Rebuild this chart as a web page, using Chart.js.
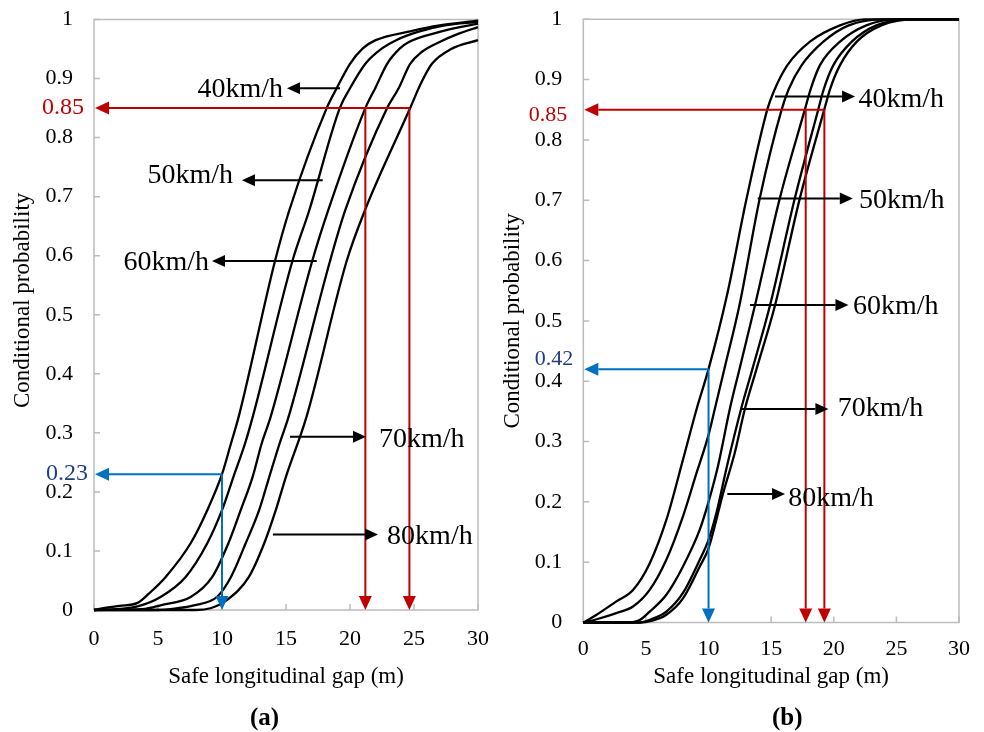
<!DOCTYPE html>
<html><head><meta charset="utf-8">
<script src="https://cdn.jsdelivr.net/npm/chart.js@4/dist/chart.umd.min.js"></script>
<style>
html,body{margin:0;padding:0;background:#fff;width:984px;height:732px;overflow:hidden;}
canvas{position:absolute;top:0;}
#ca{left:0;} #cb{left:490px;}
.cap{position:absolute;top:702px;font-family:'Liberation Serif','Times New Roman',serif;font-weight:bold;font-size:25px;line-height:30px;color:#000;}
</style></head><body>
<canvas id="ca" width="490" height="732"></canvas>
<canvas id="cb" width="494" height="732"></canvas>
<div class="cap" style="left:250px">(a)</div>
<div class="cap" style="left:772px">(b)</div>
<script>
// ---------- data ----------
const speeds = ['40km/h','50km/h','60km/h','70km/h','80km/h'];
const xTickLabels = ['0','5','10','15','20','25','30'];
const yTickLabels = ['0','0.1','0.2','0.3','0.4','0.5','0.6','0.7','0.8','0.9','1'];

// panel (a)
const gapA40  = [0,1,2,3.4,4.3,5.6,7.55,8.85,10,10.7,11.3,14.14,15.26,18.18,18.96,20.0,21.0,22.0,24.7,27,30];
const probA40 = [0,0.004,0.007,0.012,0.028,0.056,0.113,0.169,0.23,0.282,0.327,0.591,0.677,0.85,0.8835,0.925,0.951,0.965,0.98,0.99,0.998];
const gapA50  = [0,2,3.4,5.2,7.16,8.85,10,10.9,11.8,12.4,15.5,16.82,19.2,20.0,21.2,22.5,23.6,25.3,27.4,30];
const probA50 = [0,0.002,0.006,0.022,0.056,0.113,0.169,0.226,0.282,0.327,0.591,0.677,0.85,0.8835,0.925,0.951,0.965,0.979,0.99,0.996];
const gapA60  = [0,4,5.2,7.55,9.24,10.5,11.46,12.4,13.1,13.8,17.05,18.3,21.2,22.0,22.9,23.9,24.6,27.0,30];
const probA60 = [0,0.002,0.008,0.022,0.056,0.113,0.169,0.226,0.282,0.327,0.591,0.677,0.85,0.885,0.925,0.951,0.962,0.979,0.993];
const gapA70  = [0,5,6.5,7.8,9.6,10.7,11.85,12.9,13.7,14.5,15.2,18.44,19.63,22.9,23.8,24.7,25.6,27.0,28.5,30];
const probA70 = [0,0,0.003,0.008,0.022,0.056,0.113,0.169,0.226,0.282,0.327,0.591,0.677,0.85,0.8835,0.925,0.945,0.962,0.976,0.987];
const gapA80  = [0,5,8,9.1,10.4,12.1,13.3,14.2,15.0,16.6,19.74,21.17,24.7,25.5,26.4,27.9,30];
const probA80 = [0,0,0,0.003,0.017,0.056,0.113,0.169,0.226,0.327,0.591,0.677,0.85,0.89,0.925,0.95,0.965];

// panel (b)
const gapB40  = [0,1,2.64,3.97,5.3,6.63,7.96,9.05,10,11.5,13.05,14.7,15.2,16.3,18.1,20.5,22.5,30];
const probB40 = [0,0.012,0.035,0.054,0.098,0.17,0.27,0.354,0.42,0.545,0.704,0.851,0.88,0.924,0.963,0.99,1,1];
const gapB50  = [0,1,2.64,3.97,5.3,6.63,7.96,9.0,10,10.5,11.26,12.46,14.1,15.85,16.4,17.44,19.17,21.2,24,30];
const probB50 = [0,0.005,0.0155,0.0265,0.054,0.104,0.176,0.245,0.311,0.354,0.42,0.525,0.704,0.851,0.884,0.924,0.963,0.99,1,1];
const gapB60  = [0,3.5,4.5,5.3,6.63,7.96,9.3,10,10.76,11.7,12.47,13.7,15.7,17.7,18.15,18.9,20.5,22.6,25,30];
const probB60 = [0,0,0.004,0.018,0.046,0.093,0.154,0.2,0.26,0.354,0.42,0.525,0.704,0.851,0.884,0.924,0.963,0.99,1,1];
const gapB70  = [0,4.5,5.5,6.63,7.96,9.3,10,10.62,11.48,12.6,13.5,14.9,16.9,18.77,19.2,19.97,21.44,23.4,26,30];
const probB70 = [0,0,0.006,0.018,0.049,0.104,0.137,0.181,0.26,0.354,0.42,0.525,0.704,0.851,0.884,0.924,0.963,0.99,1,1];
const gapB80  = [0,4.5,5.5,6.63,7.96,9.3,10,11.16,12.09,12.9,13.83,15.3,17.3,19.25,19.7,20.5,21.84,23.8,26.5,30];
const probB80 = [0,0,0.003,0.0128,0.04,0.093,0.123,0.214,0.281,0.354,0.42,0.525,0.704,0.851,0.884,0.924,0.963,0.99,1,1];

// speed-label arrows (data coords): start, tip, text anchor
const arrowFromA = [[19.22,0.8835],[17.87,0.7277],[17.4,0.591],[15.31,0.2935],[13.98,0.128]];
const arrowToA   = [[15.08,0.8835],[11.56,0.7277],[9.22,0.591],[21.25,0.2935],[22.19,0.128]];
const labelAtA   = [[14.77,0.882],[10.86,0.7355],[8.98,0.589],[22.27,0.288],[22.9,0.124]];
const arrowFromB = [[15.31,0.872],[13.93,0.703],[13.31,0.5265],[12.65,0.354],[11.5,0.213]];
const arrowToB   = [[21.7,0.872],[21.52,0.703],[21.17,0.5265],[19.57,0.354],[16.11,0.213]];
const labelAtB   = [[21.97,0.866],[22.02,0.699],[21.54,0.524],[20.32,0.354],[16.37,0.205]];

// read-off guides
const redProbA = 0.85, redGapsA = [21.2,24.64], blueGapA = 10, blueProbA = 0.23;
const redProbB = 0.85, redGapsB = [17.76,19.25], blueGapB = 10, blueProbB = 0.42;

// ---------- rendering ----------
const SERIF = "'Liberation Serif','Times New Roman',serif";
Chart.defaults.font.family = SERIF;
const RED = '#c00000', BLUE = '#0070c0', NAVY = '#1f3c88';

function datasets(pairs){
  return pairs.map(([xs,ys],i)=>({
    label: speeds[i],
    data: xs.map((x,j)=>({x:x, y:ys[j]})),
    borderColor:'#000', borderWidth:2.3, pointRadius:0, fill:false,
    cubicInterpolationMode:'monotone', clip:6
  }));
}

function arrow(ctx,x1,y1,x2,y2,color,lw,hl,hw){
  const a=Math.atan2(y2-y1,x2-x1);
  const bx=x2-hl*Math.cos(a), by=y2-hl*Math.sin(a);
  ctx.strokeStyle=color; ctx.lineWidth=lw;
  ctx.beginPath(); ctx.moveTo(x1,y1); ctx.lineTo(bx,by); ctx.stroke();
  ctx.fillStyle=color; ctx.beginPath(); ctx.moveTo(x2,y2);
  ctx.lineTo(bx-hw/2*Math.sin(a), by+hw/2*Math.cos(a));
  ctx.lineTo(bx+hw/2*Math.sin(a), by-hw/2*Math.cos(a));
  ctx.closePath(); ctx.fill();
}

function decoPlugin(p){
  return {
    id:'deco',
    beforeDatasetsDraw(chart){
      const ctx=chart.ctx, ca=chart.chartArea, xs=chart.scales.x, ys=chart.scales.y;
      ctx.save();
      ctx.strokeStyle='#bcbcbc'; ctx.lineWidth=1.5;
      ctx.strokeRect(ca.left,ca.top,ca.right-ca.left,ca.bottom-ca.top);
      ctx.beginPath();
      ys.ticks.forEach(t=>{const y=ys.getPixelForValue(t.value); ctx.moveTo(ca.left,y); ctx.lineTo(ca.left+6,y);});
      xs.ticks.forEach(t=>{const x=xs.getPixelForValue(t.value); ctx.moveTo(x,ca.bottom); ctx.lineTo(x,ca.bottom-6);});
      ctx.stroke();
      ctx.restore();
    },
    afterDatasetsDraw(chart){
      const ctx=chart.ctx, xs=chart.scales.x, ys=chart.scales.y;
      const X=v=>xs.getPixelForValue(v), Y=v=>ys.getPixelForValue(v);
      ctx.save();
      const ry=Y(p.redProb), rmax=Math.max(...p.redGaps);
      arrow(ctx,X(rmax),ry,X(0)+1,ry,RED,2,14,13);
      p.redGaps.forEach(g=>arrow(ctx,X(g),ry,X(g),Y(0),RED,2,14,13));
      const by=Y(p.blueProb);
      arrow(ctx,X(p.blueGap),by,X(0)+1,by,BLUE,2,14,13);
      arrow(ctx,X(p.blueGap),by,X(p.blueGap),Y(0),BLUE,2,14,13);
      ctx.textBaseline='middle'; ctx.textAlign='right';
      ctx.font=p.guideFont+'px '+SERIF;
      ctx.fillStyle=RED; ctx.fillText(String(p.redProb), X(0)-p.redDx, ry+p.redDy);
      ctx.fillStyle=NAVY; ctx.fillText(String(p.blueProb), X(0)-p.blueDx, by+p.blueDy);
      ctx.font='28px '+SERIF;
      p.from.forEach((f,i)=>{
        const t=p.to[i], l=p.at[i];
        arrow(ctx,X(f[0]),Y(f[1]),X(t[0]),Y(t[1]),'#000',2,13,12);
        ctx.fillStyle='#000';
        ctx.textAlign = t[0]<f[0] ? 'right' : 'left';
        ctx.fillText(speeds[i], X(l[0]), Y(l[1]));
      });
      ctx.restore();
    }
  };
}

function makeChart(id, pairs, p){
  return new Chart(document.getElementById(id), {
    type:'line',
    data:{datasets:datasets(pairs)},
    options:{
      responsive:false, animation:false, devicePixelRatio:1,
      layout:{padding:{top:p.padTop,bottom:41,left:0,right:p.padRight}},
      plugins:{legend:{display:false}, tooltip:{enabled:false}},
      elements:{point:{radius:0}},
      scales:{
        x:{type:'linear', min:0, max:30,
           ticks:{stepSize:5, color:'#000', font:{size:22}, padding:p.xTickPad, maxRotation:0,
                  callback:(v,i)=>xTickLabels[i]},
           grid:{display:false, drawTicks:false}, border:{display:false},
           title:{display:true, text:'Safe longitudinal gap (m)', color:'#000', font:{size:23}, padding:0},
           afterFit:s=>{s.height=p.xHeight; s.paddingLeft=0; s.paddingRight=0;}},
        y:{type:'linear', min:0, max:1,
           ticks:{stepSize:0.1, color:'#000', font:{size:22}, padding:21,
                  callback:(v,i)=>yTickLabels[i]},
           grid:{display:false, drawTicks:false}, border:{display:false},
           title:{display:true, text:p.yTitle, color:'#000', font:{size:23}, padding:{top:9,bottom:0}},
           afterFit:s=>{s.width=p.yWidth; s.paddingTop=0; s.paddingBottom=0;}}
      }
    },
    plugins:[decoPlugin(p)]
  });
}

makeChart('ca', [[gapA40,probA40],[gapA50,probA50],[gapA60,probA60],[gapA70,probA70],[gapA80,probA80]], {
  padTop:19.5, padRight:12, xHeight:81, yWidth:94, xTickPad:16,
  yTitle:'\u00a0\u00a0\u00a0\u00a0\u00a0Conditional probability',
  redProb:redProbA, redGaps:redGapsA, blueGap:blueGapA, blueProb:blueProbA,
  guideFont:24, redDx:10, redDy:0, blueDx:6, blueDy:0,
  from:arrowFromA, to:arrowToA, at:labelAtA
});
makeChart('cb', [[gapB40,probB40],[gapB50,probB50],[gapB60,probB60],[gapB70,probB70],[gapB80,probB80]], {
  padTop:19.3, padRight:25, xHeight:68.5, yWidth:93.3, xTickPad:14,
  yTitle:'Conditional probability',
  redProb:redProbB, redGaps:redGapsB, blueGap:blueGapB, blueProb:blueProbB,
  guideFont:22, redDx:16, redDy:5, blueDx:10, blueDy:-10,
  from:arrowFromB, to:arrowToB, at:labelAtB
});
</script>
</body></html>
